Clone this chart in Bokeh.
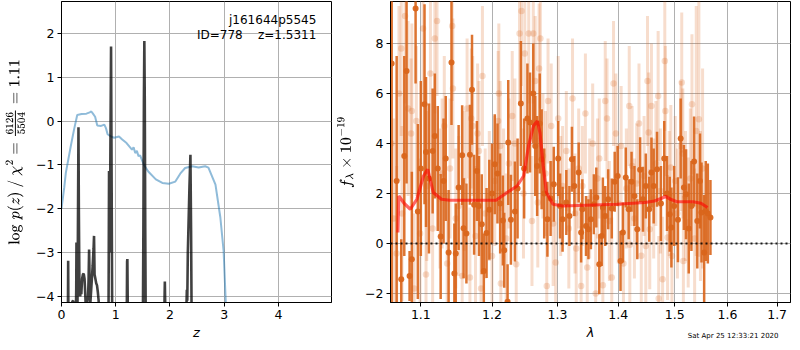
from bokeh.plotting import figure
from bokeh.layouts import row
from bokeh.models import ColumnDataSource, Label, Title, FixedTicker, Range1d, CustomJSTickFormatter
from bokeh.embed import file_html
from bokeh.resources import INLINE

# ---------------- left panel data ----------------
chi2_z = [0.0, 0.05, 0.08, 0.17, 0.23, 0.29, 0.37, 0.46, 0.52, 0.55, 0.58, 0.62, 0.66, 0.73, 0.79,
          0.82, 0.85, 0.91, 0.97, 1.06, 1.12, 1.2, 1.3, 1.33, 1.36, 1.39, 1.42, 1.45, 1.52, 1.6,
          1.74, 1.86, 1.98, 2.1, 2.19, 2.28, 2.41, 2.53, 2.65, 2.71, 2.75, 2.84, 2.93, 2.99, 3.03, 3.06]
chi2_logp = [-2.0, -1.52, -1.18, -0.58, -0.2, 0.14, 0.16, 0.17, 0.2, 0.22, 0.17, 0.1, -0.1, -0.11, -0.08,
             -0.16, -0.3, -0.35, -0.38, -0.35, -0.42, -0.5, -0.65, -0.6, -0.73, -0.68, -0.8, -0.78, -1.0, -1.15,
             -1.33, -1.41, -1.43, -1.38, -1.2, -1.07, -1.03, -1.06, -1.03, -1.06, -1.18, -1.45, -2.2, -2.96, -4.14, -5.0]

pz_z = [0.10, 0.118, 0.123, 0.128, 0.14, 0.19, 0.20, 0.215, 0.225, 0.235, 0.26, 0.272, 0.276, 0.282,
        0.295, 0.305, 0.313, 0.32, 0.33, 0.345, 0.355, 0.365, 0.38, 0.395, 0.41, 0.425, 0.44, 0.45,
        0.47, 0.49, 0.50, 0.509, 0.518, 0.53, 0.545, 0.56, 0.575, 0.592, 0.60, 0.61, 0.625, 0.64,
        0.655, 0.67, 0.685, 0.70, 0.85, 0.868, 0.877, 0.885, 0.895, 0.914, 0.925, 0.935, 0.95,
        1.19, 1.205, 1.21, 1.215, 1.222, 1.235, 1.495, 1.51, 1.52, 1.528, 1.536, 1.545, 1.56,
        1.88, 1.90, 1.906, 1.912, 1.93, 2.28, 2.305, 2.312, 2.32, 2.33, 2.36, 2.378, 2.39, 2.40, 2.42, 2.5]
pz_logp = [-6.0, -4.5, -3.19, -4.5, -6.0, -5.0, -4.12, -4.1, -4.15, -4.5, -5.0, -3.8, -2.77, -4.0,
           -4.2, -2.0, -0.14, -2.0, -3.7, -4.0, -3.8, -3.95, -3.6, -3.5, -3.48, -3.6, -4.0, -4.3,
           -4.15, -4.0, -3.6, -2.93, -3.6, -4.2, -3.9, -3.6, -3.3, -2.9, -2.62, -3.5, -3.6, -3.7,
           -3.75, -3.9, -4.1, -5.0, -6.0, -4.2, -1.14, -3.0, -2.0, 1.70, -1.5, -4.5, -6.0,
           -6.0, -4.2, -3.2, -3.15, -4.2, -6.0, -6.0, -2.5, 0.5, 1.83, 0.5, -2.5, -6.0,
           -6.0, -4.1, -3.66, -4.1, -6.0, -6.0, -4.2, -3.85, -4.1, -3.0, -1.5, -0.77, -2.5, -4.5, -6.0, -8.0]

z_ticks = [0, 1, 2, 3, 4]
logp_ticks = [-4, -3, -2, -1, 0, 1, 2]

# ---------------- right panel data ----------------
dark_lam = [1.0615, 1.068, 1.074, 1.078, 1.081, 1.085, 1.088, 1.093, 1.096, 1.100, 1.105, 1.107, 1.111,
            1.116, 1.119, 1.123, 1.127, 1.131, 1.134, 1.138, 1.142, 1.146, 1.148, 1.152, 1.157, 1.159,
            1.163, 1.168, 1.171, 1.174, 1.178, 1.181, 1.185, 1.188, 1.192, 1.196, 1.200, 1.204, 1.208,
            1.212, 1.216, 1.218, 1.223, 1.224, 1.228, 1.234, 1.238, 1.243, 1.248, 1.253, 1.257, 1.262,
            1.265, 1.268, 1.272, 1.275, 1.279, 1.284, 1.289, 1.294, 1.301, 1.304, 1.308, 1.314, 1.319,
            1.323, 1.327, 1.334, 1.338, 1.340, 1.346, 1.350, 1.354, 1.359, 1.363, 1.368, 1.372, 1.374,
            1.378, 1.383, 1.389, 1.394, 1.399, 1.404, 1.408, 1.413, 1.418, 1.423, 1.428, 1.433, 1.438,
            1.443, 1.448, 1.454, 1.458, 1.462, 1.468, 1.475, 1.481, 1.486, 1.491, 1.494, 1.499, 1.506,
            1.511, 1.517, 1.521, 1.526, 1.531, 1.536, 1.542, 1.547, 1.550, 1.555, 1.558, 1.562, 1.567]
dark_flux = [7.2, 2.5, -1.43, 3.5, 6.9, -1.3, -0.63, 9.4, 1.28, 3.0, 5.57, 3.66, 2.6,
             3.7, 4.3, 3.0, 0.28, 2.5, 3.4, -0.36, 7.24, -1.2, -0.4, 2.24, 3.53, 0.61,
             0.4, 3.55, 6.15, 1.55, 2.9, 1.5, 0.77, -1.1, 0.42, 1.35, 2.0, 3.17, 2.8,
             1.6, 0.92, -0.27, -2.33, 4.04, 0.95, 1.28, 2.2, 5.6, 3.0, 5.0, 4.84, 6.0,
             3.9, 3.1, 4.8, 3.37, 2.0, 0.97, 1.8, 2.37, 3.4, 1.5, 0.97, 1.64, 1.1,
             3.37, 2.3, 2.84, 0.44, 1.37, 0.7, 0.57, 0.97, 1.57, 1.84, -0.83, 0.3, 1.44,
             1.1, 1.77, 1.4, 2.47, 2.7, -0.7, 0.44, 2.64, 1.37, 2.47, 1.9, 0.57, 2.95,
             1.77, 2.3, 1.37, 2.84, 2.3, 2.97, 1.6, 3.4, 2.0, 1.17, 0.64, 1.5, 0.95,
             4.2, 2.24, 1.97, 0.6, 1.5, 3.28, 0.9, 2.5, 1.24, -0.36, 1.3, 1.2, 1.04]
dark_err = [12.0, 5.0, 1.6, 4.0, 4.5, 1.0, 3.5, 3.0, 3.5, 3.5, 4.0, 3.0, 3.0,
            2.5, 2.5, 2.5, 2.5, 2.5, 2.5, 2.5, 2.5, 2.0, 2.0, 2.5, 2.0, 2.0,
            2.0, 2.0, 2.2, 2.0, 2.0, 2.0, 2.0, 1.5, 1.8, 2.0, 2.0, 2.0, 2.0,
            2.0, 1.8, 1.5, 1.5, 2.5, 1.8, 2.0, 2.0, 2.5, 2.0, 2.2, 2.0, 2.0,
            2.0, 2.0, 2.0, 2.0, 1.8, 1.5, 1.5, 1.5, 1.5, 1.3, 1.3, 1.3, 1.2,
            1.3, 1.2, 1.2, 1.2, 1.2, 1.2, 1.2, 1.2, 1.2, 1.2, 1.2, 1.2, 1.2,
            1.2, 1.2, 1.2, 1.2, 1.2, 1.2, 1.2, 1.2, 1.2, 1.2, 1.2, 1.2, 1.3,
            1.3, 1.3, 1.3, 1.4, 1.5, 1.5, 1.5, 1.5, 1.5, 1.5, 1.6, 1.6, 1.7,
            1.6, 1.7, 1.8, 1.8, 1.8, 1.8, 1.9, 1.9, 2.0, 2.3, 2.0, 2.0, 1.5]

light_lam = [1.061, 1.064, 1.068, 1.071, 1.074, 1.075, 1.079, 1.083, 1.087, 1.088, 1.091, 1.094, 1.099,
             1.103, 1.107, 1.108, 1.113, 1.116, 1.119, 1.122, 1.126, 1.129, 1.132, 1.136, 1.140, 1.143,
             1.144, 1.148, 1.152, 1.157, 1.160, 1.164, 1.168, 1.170, 1.172, 1.176, 1.179, 1.181, 1.184,
             1.186, 1.190, 1.196, 1.200, 1.204, 1.209, 1.210, 1.212, 1.213, 1.217, 1.221, 1.225, 1.230,
             1.234, 1.236, 1.241, 1.244, 1.247, 1.249, 1.255, 1.260, 1.262, 1.265, 1.269, 1.271, 1.273,
             1.277, 1.281, 1.283, 1.285, 1.290, 1.293, 1.297, 1.301, 1.305, 1.308, 1.314, 1.318, 1.324,
             1.328, 1.330, 1.334, 1.338, 1.340, 1.345, 1.348, 1.352, 1.357, 1.362, 1.365, 1.368, 1.374,
             1.378, 1.381, 1.385, 1.389, 1.392, 1.396, 1.400, 1.405, 1.409, 1.414, 1.419, 1.420, 1.424,
             1.428, 1.432, 1.436, 1.440, 1.445, 1.448, 1.451, 1.453, 1.455, 1.458, 1.462, 1.466, 1.470,
             1.471, 1.474, 1.478, 1.482, 1.483, 1.487, 1.490, 1.493, 1.495, 1.501, 1.505, 1.511, 1.513,
             1.515, 1.516, 1.520, 1.525, 1.529, 1.532, 1.537, 1.540, 1.545, 1.548, 1.552]
light_flux = [4.0, 1.0, -0.4, 6.0, 7.8, 1.2, 9.1, 5.4, 4.4, 5.3, -1.8, 4.9, 0.4,
              8.6, -1.24, 2.3, 6.8, 0.6, 8.2, 8.9, 1.8, 2.8, 4.7, -0.8, 3.0, 8.7,
              6.2, 1.0, 1.5, -1.3, 2.5, 5.4, -1.36, 5.0, 4.7, 0.3, 4.4, 3.7, -1.8,
              6.7, 1.2, 1.9, -0.5, 2.5, 4.9, 6.0, 3.9, -1.6, 2.0, 0.2, 3.2, 5.1,
              4.0, -0.83, 8.4, 9.3, 2.0, 7.6, 8.4, 0.9, 8.4, 6.5, 1.64, 7.0, 8.2,
              3.5, 2.8, -1.7, 5.7, 4.7, 0.8, -0.76, 5.0, 1.9, 2.3, 3.7, 0.6, 5.8,
              1.2, -0.2, 3.0, -1.7, 2.3, 5.2, -0.96, 1.8, 4.0, -2.0, 2.6, 3.4, -1.67,
              5.7, 5.0, 0.9, -1.36, 6.4, 4.4, 1.6, 3.9, -0.8, 2.2, 5.5, -0.05, 3.1,
              1.0, 2.4, 4.8, -0.49, 2.7, -0.1, 6.5, 4.44, 0.57, 5.5, 1.8, 3.2, 5.9,
              -2.2, 2.1, -1.43, 7.3, 5.3, 0.24, 2.0, 3.04, -0.5, 2.5, 1.2, 3.9, 6.44,
              3.6, -0.7, 1.9, 0.84, 2.6, 5.57, 0.2, 4.5, 4.97, 1.5, 3.0]
light_err = [6.0, 4.0, 3.5, 3.5, 3.5, 3.5, 3.5, 3.5, 3.0, 3.5, 3.0, 3.0, 3.0,
             3.0, 3.0, 3.0, 3.0, 3.0, 3.0, 3.0, 2.8, 3.0, 2.8, 2.8, 2.8, 3.0,
             2.8, 2.8, 2.8, 2.8, 2.8, 2.8, 2.8, 2.8, 2.8, 2.8, 2.8, 2.8, 2.6,
             2.8, 2.6, 2.6, 2.6, 2.6, 2.8, 2.8, 2.6, 2.6, 2.6, 2.6, 2.6, 2.6,
             2.6, 2.6, 2.8, 3.0, 2.6, 2.8, 2.8, 2.6, 2.8, 2.6, 2.6, 2.6, 2.8,
             2.5, 2.5, 2.5, 2.5, 2.5, 2.5, 2.5, 2.5, 2.4, 2.4, 2.4, 2.4, 2.4,
             2.4, 2.4, 2.4, 2.4, 2.4, 2.4, 2.4, 2.4, 2.4, 2.4, 2.4, 2.4, 2.4,
             2.4, 2.4, 2.4, 2.4, 2.5, 2.4, 2.4, 2.4, 2.4, 2.4, 2.4, 2.4, 2.4,
             2.4, 2.4, 2.4, 2.4, 2.4, 2.4, 2.6, 2.4, 2.4, 2.5, 2.4, 2.5, 2.6,
             2.5, 2.5, 2.5, 2.8, 2.6, 2.5, 2.5, 2.5, 2.5, 2.6, 2.6, 2.6, 2.8,
             2.6, 2.6, 2.6, 2.6, 2.8, 2.8, 2.8, 5.0, 5.5, 3.0, 4.0]

model_lam = [1.0696, 1.0708, 1.078, 1.086, 1.0947, 1.1036, 1.1093, 1.1169, 1.128, 1.1394, 1.1846,
             1.206, 1.2222, 1.2373, 1.2472, 1.2547, 1.2622, 1.2683, 1.2723, 1.2774, 1.2825, 1.2928,
             1.3084, 1.3975, 1.4463, 1.4634, 1.4752, 1.4837, 1.4924, 1.504, 1.534, 1.549, 1.5614]
model_flux = [0.44, 1.9, 1.6, 1.37, 1.77, 2.7, 2.97, 2.04, 1.77, 1.73, 1.73,
              1.73, 2.04, 2.3, 2.7, 3.9, 4.7, 4.9, 4.44, 3.1, 2.04, 1.57,
              1.5, 1.57, 1.64, 1.7, 1.8, 1.88, 1.77, 1.67, 1.67, 1.61, 1.44]

lam_ticks = [1.1, 1.2, 1.3, 1.4, 1.5, 1.6, 1.7]
flux_ticks = [-2, 0, 2, 4, 6, 8]

FONT = "DejaVu Sans"
TICK_SIZE = "12.5px"
ORANGE = "#d9651b"
MINUS_FMT = "return (tick < 0 ? '\\u2212' : '') + Math.abs(tick).toFixed(0);"
H = 342
BOTTOM = 40


def style(p):
    p.outline_line_color = "black"
    p.outline_line_width = 1
    p.outline_line_alpha = 1
    p.background_fill_color = "white"
    p.border_fill_color = "white"
    for ax in (p.xaxis[0], p.yaxis[0]):
        ax.axis_line_color = "black"
        ax.major_tick_line_color = "black"
        ax.major_tick_out = 4
        ax.major_tick_in = 0
        ax.minor_tick_line_color = None
        ax.major_label_text_font = FONT
        ax.major_label_text_font_size = TICK_SIZE
        ax.major_label_text_color = "black"
        ax.major_label_standoff = 3
        ax.axis_label_text_font = FONT
        ax.axis_label_text_font_size = "13px"
        ax.axis_label_text_color = "black"
        ax.axis_label_text_font_style = "normal"
    p.grid.grid_line_color = "#b0b0b0"
    p.grid.grid_line_width = 1


# ---------------- left figure ----------------
p1 = figure(width=333, height=H, x_range=Range1d(0, 4.98), y_range=Range1d(-4.14, 2.73),
            output_backend="svg", toolbar_location=None,
            min_border_left=61, min_border_right=2, min_border_top=1, min_border_bottom=BOTTOM)
style(p1)
p1.xaxis.ticker = FixedTicker(ticks=z_ticks)
p1.yaxis.ticker = FixedTicker(ticks=logp_ticks)
p1.xaxis.formatter = CustomJSTickFormatter(code=MINUS_FMT)
p1.yaxis.formatter = CustomJSTickFormatter(code=MINUS_FMT)
p1.xaxis.axis_label = "z"
p1.xaxis.axis_label_text_font_style = "italic"
p1.xaxis.axis_label_standoff = 3
p1.yaxis.axis_label = r"$$\log\,p(z)\ /\ \chi^2=\tfrac{6126}{5504}=1.11$$"
p1.yaxis.axis_label_text_font_size = "12px"
p1.yaxis.axis_label_standoff = 8

p1.line(chi2_z, chi2_logp, line_color="#1f77b4", line_alpha=0.5, line_width=2)
p1.line(pz_z, pz_logp, line_color="black", line_alpha=0.75, line_width=2.6)

p1.add_layout(Label(x=4.70, y=2.30, text="j161644p5545", text_align="right", text_baseline="middle",
                    text_font=FONT, text_font_size="12px", text_color="black"))
p1.add_layout(Label(x=4.70, y=1.97, text="ID=778\u00a0\u00a0\u00a0\u00a0z=1.5311", text_align="right",
                    text_baseline="middle", text_font=FONT, text_font_size="12px", text_color="black"))

# ---------------- right figure ----------------
p2 = figure(width=458, height=H, x_axis_type="log", x_range=Range1d(1.06, 1.728),
            y_range=Range1d(-2.36, 9.68), output_backend="svg", toolbar_location=None,
            min_border_left=55, min_border_right=1, min_border_top=1, min_border_bottom=BOTTOM)
style(p2)
p2.xaxis.ticker = FixedTicker(ticks=lam_ticks)
p2.yaxis.ticker = FixedTicker(ticks=flux_ticks)
p2.xaxis.formatter = CustomJSTickFormatter(code="return tick.toFixed(1);")
p2.yaxis.formatter = CustomJSTickFormatter(code=MINUS_FMT)
p2.xaxis.axis_label = "λ"
p2.xaxis.axis_label_text_font_style = "italic"
p2.xaxis.axis_label_standoff = 3
p2.yaxis.axis_label = r"$$f_\lambda \times 10^{-19}$$"
p2.yaxis.axis_label_text_font_size = "12px"
p2.yaxis.axis_label_standoff = 8

light_src = ColumnDataSource(dict(
    x=light_lam, y=light_flux,
    lo=[f - e for f, e in zip(light_flux, light_err)],
    hi=[f + e for f, e in zip(light_flux, light_err)]))
dark_src = ColumnDataSource(dict(
    x=dark_lam, y=dark_flux,
    lo=[f - e for f, e in zip(dark_flux, dark_err)],
    hi=[f + e for f, e in zip(dark_flux, dark_err)]))

p2.segment(x0="x", y0="lo", x1="x", y1="hi", source=light_src, line_color=ORANGE, line_alpha=0.22, line_width=3)
p2.scatter(x="x", y="y", source=light_src, size=6.5, fill_color=ORANGE, fill_alpha=0.22, line_color=None)
p2.segment(x0="x", y0="lo", x1="x", y1="hi", source=dark_src, line_color=ORANGE, line_alpha=0.9, line_width=2.5)
p2.scatter(x="x", y="y", source=dark_src, size=6, fill_color=ORANGE, fill_alpha=0.95, line_color=None)
p2.line(model_lam, model_flux, line_color="red", line_alpha=0.6, line_width=3.2)
p2.line([1.06, 1.728], [0, 0], line_color="black", line_dash="2 3", line_width=2, line_alpha=0.85)

p2.add_layout(Title(text="Sat Apr 25 12:33:21 2020", align="right", vertical_align="top", text_font=FONT,
                    text_font_size="7px", text_font_style="normal", text_color="black",
                    standoff=-22, offset=12), "below")

layout = row(p1, p2)
open("out.html", "w").write(file_html(layout, INLINE))
